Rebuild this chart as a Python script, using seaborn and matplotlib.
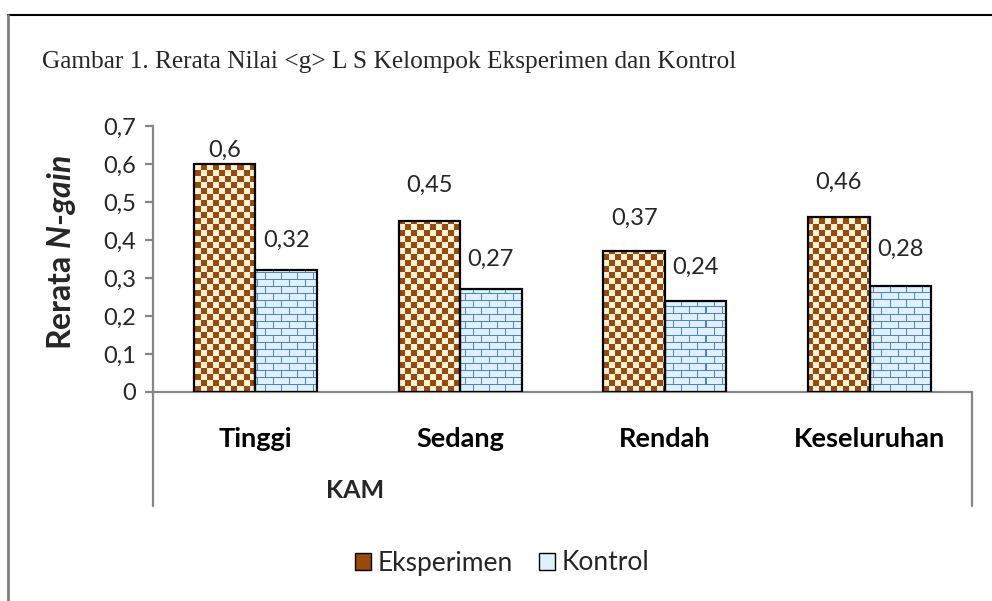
import numpy as np
import pandas as pd
import seaborn as sns
import matplotlib.pyplot as plt
from matplotlib.lines import Line2D
from matplotlib.patches import Patch

# data
categories = ['Tinggi', 'Sedang', 'Rendah', 'Keseluruhan']
eksperimen = [0.6, 0.45, 0.37, 0.46]
kontrol = [0.32, 0.27, 0.24, 0.28]
groups = ['Eksperimen', 'Kontrol']

df = pd.DataFrame({
    'KAM': categories * 2,
    'nilai': eksperimen + kontrol,
    'kelompok': ['Eksperimen'] * 4 + ['Kontrol'] * 4,
})

sns.set_style('white')
plt.rcParams['font.family'] = ['Lato', 'DejaVu Sans']
plt.rcParams['mathtext.fontset'] = 'custom'
plt.rcParams['mathtext.bfit'] = 'Lato:bold:italic'
plt.rcParams['mathtext.it'] = 'Lato:italic'

fig = plt.figure(figsize=(9.92, 6.01), dpi=100)
ax = fig.add_axes([153/992, 1-392/601, 819/992, 266/601])

sns.barplot(data=df, x='KAM', y='nilai', hue='kelompok', order=categories,
            hue_order=groups, width=0.6, ax=ax, legend=False,
            edgecolor='black', linewidth=1.6, saturation=1)

# pattern fills (Excel style checker / brick)
W, H = 819, 266
yy, xx = np.mgrid[0:H, 0:W]
brown = np.array([0.60, 0.29, 0.04])
cream = np.array([1.0, 0.95, 0.84])
checker = ((xx // 6 + yy // 6) % 2)[..., None]
check_img = np.where(checker == 1, brown, cream)

blue = np.array([0.33, 0.50, 0.80])
lightblue = np.array([0.87, 0.95, 0.99])
row = yy // 7
mortar = (yy % 7 == 0) | ((xx + (row % 2) * 8) % 16 == 0)
brick_img = np.where(mortar[..., None], blue, lightblue)

for cont, img in zip(ax.containers, [check_img, brick_img]):
    for bar in cont:
        bar.set_facecolor('none')
        bar.set_zorder(3)
        im = ax.imshow(img, extent=[-0.5, 3.5, 0, 0.7], aspect='auto',
                       interpolation='nearest', origin='lower', zorder=2)
        im.set_clip_path(bar)

ax.set_xlim(-0.5, 3.5)
ax.set_ylim(0, 0.7)

# data labels
label_off = [[10, 26, 24, 25], [22, 22, 24, 26]]
for cont, vals, offs in zip(ax.containers, [eksperimen, kontrol], label_off):
    for bar, v, off in zip(cont, vals, offs):
        ax.annotate(str(v).replace('.', ','),
                    (bar.get_x() + bar.get_width() / 2, bar.get_height()),
                    xytext=(0, off), textcoords='offset points',
                    ha='center', va='center', fontsize=17, color='#262626')

# axes styling
grey = '#868686'
for s in ['top', 'right']:
    ax.spines[s].set_visible(False)
for s in ['left', 'bottom']:
    ax.spines[s].set_color(grey)
    ax.spines[s].set_linewidth(1.6)

yt = [0, 0.1, 0.2, 0.3, 0.4, 0.5, 0.6, 0.7]
ax.set_yticks(yt)
ax.set_yticklabels(['0' if t == 0 else f'{t:.1f}'.replace('.', ',') for t in yt])
ax.tick_params(axis='y', left=True, length=6, width=1.6, color=grey,
               labelsize=17, labelcolor='#262626', pad=6)
ax.tick_params(axis='x', bottom=False, labelsize=19.5, pad=22, labelcolor='black')
for t in ax.get_xticklabels():
    t.set_fontweight('bold')

ax.set_xlabel('KAM', fontsize=18, fontweight='bold')
ax.xaxis.set_label_coords((355-153)/819, (392-490)/266)
ax.xaxis.label.set_va('center')
ax.set_ylabel(r'Rerata $\mathbfit{N}$-$\mathbfit{gain}$', fontsize=23,
              fontweight='bold')
ax.yaxis.set_label_coords((61-153)/819, (392-252)/266)
ax.yaxis.label.set_va('center')

# extended axis box below the category labels
fig.add_artist(Line2D([153/992, 153/992], [1-392/601, 1-506/601],
                      color=grey, lw=1.6))
fig.add_artist(Line2D([972/992, 972/992], [1-392/601, 1-506/601],
                      color=grey, lw=1.6))

# legend
handles = [Patch(facecolor=brown, edgecolor='black', label='Eksperimen'),
           Patch(facecolor=lightblue, edgecolor='black', label='Kontrol')]
fig.legend(handles=handles, loc='center', bbox_to_anchor=(502/992, 1-563/601),
           ncol=2, frameon=False, fontsize=19, handlelength=0.6,
           handleheight=0.6, handletextpad=0.25, columnspacing=1.0)

# title and frame
fig.text(42/992, 1-62/601,
         'Gambar 1. Rerata Nilai <g> L S Kelompok Eksperimen dan Kontrol',
         family='Liberation Serif', fontsize=18.3, va='center', ha='left')
fig.add_artist(Line2D([8/992, 1], [1-15/601, 1-15/601], color='black', lw=1.5))
fig.add_artist(Line2D([8/992, 8/992], [0, 1-15/601], color='#7f7f7f', lw=2))

fig.savefig('out.png', dpi=100)
